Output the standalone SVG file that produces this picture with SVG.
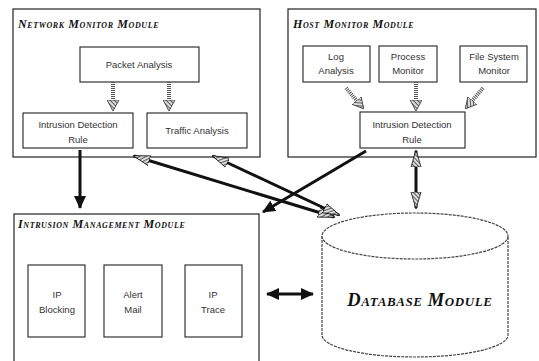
<svg xmlns="http://www.w3.org/2000/svg" width="539" height="361" viewBox="0 0 539 361">
<style>
.mod{fill:#fff;stroke:#222;stroke-width:1.2}
.box{fill:#fff;stroke:#222;stroke-width:1.1}
.ttl{font-family:"Liberation Serif",serif;font-weight:bold;font-style:italic;font-variant:small-caps;font-size:12px;fill:#111;letter-spacing:0.6px}
.lbl{font-family:"Liberation Sans",Arial,sans-serif;font-size:9.5px;fill:#333;text-anchor:middle}
.big{fill:none;stroke:#111;stroke-width:3}
.inner{fill:none;stroke:#555;stroke-width:4;stroke-dasharray:1 1}
.db{fill:#fff;stroke:#444;stroke-width:1.2;stroke-dasharray:3 1}
</style>
<defs>
<pattern id="hatch" width="3" height="3" patternUnits="userSpaceOnUse" patternTransform="rotate(45)">
<rect width="3" height="3" fill="#ddd"/>
<line x1="0" y1="0" x2="0" y2="3" stroke="#222" stroke-width="1.4"/>
</pattern>
<marker id="bh" markerUnits="userSpaceOnUse" markerWidth="14" markerHeight="12" refX="12" refY="6" orient="auto-start-reverse">
<path d="M0,0 L13,6 L0,12 z" fill="#111"/>
</marker>
<marker id="hh" markerUnits="userSpaceOnUse" markerWidth="18" markerHeight="12" refX="16" refY="6" orient="auto-start-reverse">
<path d="M0,1 L17,6 L0,11 z" fill="url(#hatch)" stroke="#111" stroke-width="0.8"/>
</marker>
<marker id="ih" markerUnits="userSpaceOnUse" markerWidth="12" markerHeight="12" refX="10" refY="6" orient="auto">
<path d="M0,0 L11,6 L0,12 z" fill="url(#hatch)" stroke="#333" stroke-width="0.8"/>
</marker>
</defs>

<g id="network-monitor-module">
<rect class="mod" x="13" y="9" width="247" height="148"/>
<text class="ttl" x="18" y="28">Network Monitor Module</text>
</g>
<g id="packet-analysis">
<rect class="box" x="80" y="47" width="119" height="35"/>
<text class="lbl" x="139" y="68">Packet Analysis</text>
</g>
<g id="intrusion-detection-rule-net">
<rect class="box" x="23" y="113" width="110" height="35"/>
<text class="lbl" x="78" y="128">Intrusion Detection</text>
<text class="lbl" x="78" y="143">Rule</text>
</g>
<g id="traffic-analysis">
<rect class="box" x="147" y="113" width="100" height="35"/>
<text class="lbl" x="197" y="134">Traffic Analysis</text>
</g>

<g id="host-monitor-module">
<rect class="mod" x="288" y="9" width="248" height="148"/>
<text class="ttl" x="293" y="28">Host Monitor Module</text>
</g>
<g id="log-analysis">
<rect class="box" x="303" y="46" width="67" height="36"/>
<text class="lbl" x="336" y="60">Log</text>
<text class="lbl" x="336" y="74">Analysis</text>
</g>
<g id="process-monitor">
<rect class="box" x="379" y="46" width="58" height="36"/>
<text class="lbl" x="408" y="60">Process</text>
<text class="lbl" x="408" y="74">Monitor</text>
</g>
<g id="file-system-monitor">
<rect class="box" x="460" y="46" width="67" height="36"/>
<text class="lbl" x="494" y="60">File System</text>
<text class="lbl" x="494" y="74">Monitor</text>
</g>
<g id="intrusion-detection-rule-host">
<rect class="box" x="360" y="112" width="105" height="36"/>
<text class="lbl" x="412" y="128">Intrusion Detection</text>
<text class="lbl" x="412" y="143">Rule</text>
</g>

<g id="intrusion-management-module">
<rect class="mod" x="14" y="214" width="245" height="152"/>
<text class="ttl" x="18" y="228">Intrusion Management Module</text>
</g>
<g id="ip-blocking">
<rect class="box" x="28" y="265" width="57" height="72"/>
<text class="lbl" x="57" y="298">IP</text>
<text class="lbl" x="57" y="313">Blocking</text>
</g>
<g id="alert-mail">
<rect class="box" x="104" y="265" width="58" height="72"/>
<text class="lbl" x="133" y="298">Alert</text>
<text class="lbl" x="133" y="313">Mail</text>
</g>
<g id="ip-trace">
<rect class="box" x="185" y="265" width="57" height="72"/>
<text class="lbl" x="213" y="298">IP</text>
<text class="lbl" x="213" y="313">Trace</text>
</g>

<g id="database-module">
<path class="db" d="M322,236 L322,335 A93,22 0 0 0 508,335 L508,236"/>
<ellipse class="db" cx="415" cy="236" rx="93" ry="23"/>
<text class="ttl" x="420" y="306" text-anchor="middle" style="font-size:18.5px">Database Module</text>
</g>

<g id="connectors">
<line class="inner" x1="113" y1="82" x2="113" y2="110" marker-end="url(#ih)"/>
<line class="inner" x1="169" y1="82" x2="169" y2="110" marker-end="url(#ih)"/>
<line class="inner" x1="346" y1="88" x2="363" y2="108" marker-end="url(#ih)"/>
<line class="inner" x1="416" y1="82" x2="416" y2="110" marker-end="url(#ih)"/>
<line class="inner" x1="483" y1="88" x2="466" y2="108" marker-end="url(#ih)"/>

<line class="big" x1="80" y1="150" x2="80" y2="208" marker-end="url(#bh)"/>
<line class="big" x1="416" y1="151" x2="416" y2="208" marker-start="url(#hh)" marker-end="url(#hh)"/>
<line class="big" x1="267" y1="294" x2="313" y2="294" marker-start="url(#bh)" marker-end="url(#bh)"/>
<line class="big" x1="134" y1="156" x2="334" y2="217" marker-start="url(#hh)" marker-end="url(#hh)"/>
<line class="big" x1="213" y1="156" x2="339" y2="215" marker-start="url(#hh)" marker-end="url(#hh)"/>
<line class="big" x1="366" y1="151" x2="263" y2="212" marker-end="url(#bh)"/>
</g>
</svg>
